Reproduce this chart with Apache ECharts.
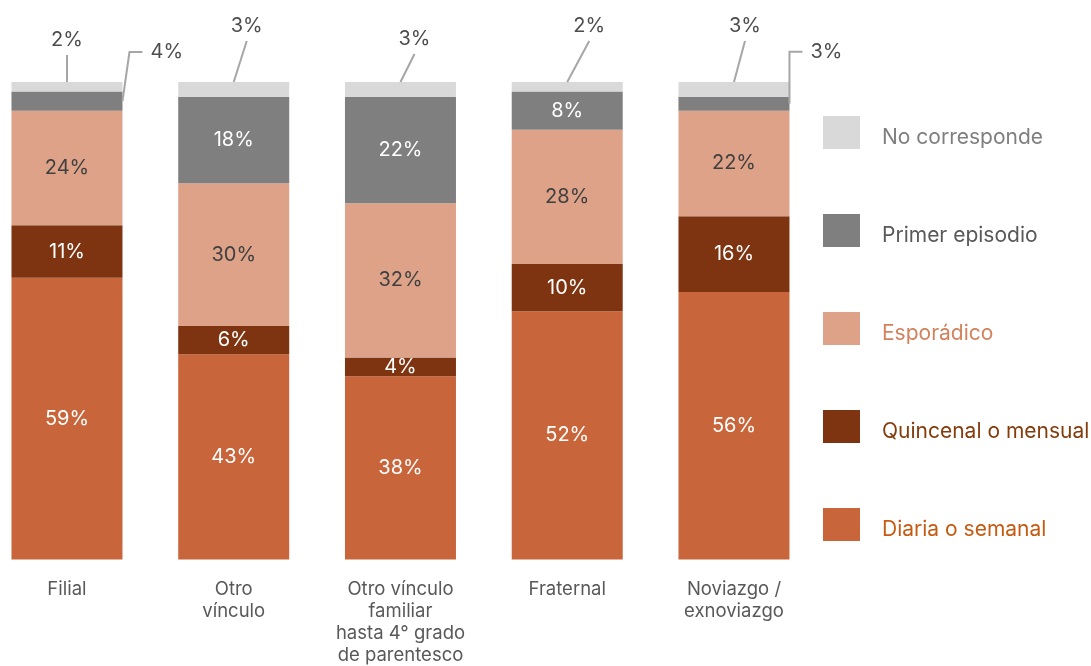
<!DOCTYPE html>
<html>
<head>
<meta charset="utf-8">
<script src="https://cdn.jsdelivr.net/npm/echarts@6/dist/echarts.min.js"></script>
<style>
  html, body { margin: 0; padding: 0; background: #fff; }
  #chart { width: 1091px; height: 666px; }
</style>
</head>
<body>
<div id="chart"></div>
<script>
const categories = ['Filial', 'Otro\nvínculo', 'Otro vínculo\nfamiliar\nhasta 4° grado\nde parentesco', 'Fraternal', 'Noviazgo /\nexnoviazgo'];
const diaria = [59.0, 43.0, 38.4, 52.0, 56.0];
const quincenal = [11.0, 5.9, 3.9, 9.9, 15.9];
const esporadico = [24.0, 29.9, 32.3, 28.1, 22.1];
const primer = [4.0, 18.1, 22.3, 8.0, 2.9];
const noCorresponde = [2.0, 3.1, 3.1, 2.0, 3.1];

// bars whose "Primer episodio" label goes outside with an elbow line
const primerOutside = [0, 4];
// leader line offsets (px) for the top labels and the side labels
const topOffsets = [[0, -27], [13, -41], [14, -28], [22, -41], [11, -41]];
const sideOffsets = { 0: [7, -49], 4: [0, -52] };

const colors = {
  no: '#D9D9D9', primer: '#7F7F7F', esp: '#DEA288', quin: '#7E3410', diaria: '#C8653A'
};
const font = 'Inter, "Noto Sans", sans-serif';
const barWidth = 111;

const chart = echarts.init(document.getElementById('chart'));

const pct = p => Math.round(p.value) + '%';
const inLabel = color => ({ show: true, position: 'inside', color: color, fontSize: 20, fontFamily: font, formatter: pct });

// outside labels
const outData = [];
const outKind = [];
categories.forEach((c, i) => {
  const total = diaria[i] + quincenal[i] + esporadico[i] + primer[i] + noCorresponde[i];
  outData.push([i, total, noCorresponde[i]]);
  outKind.push('top');
});
primerOutside.forEach(i => {
  outData.push([i, diaria[i] + quincenal[i] + esporadico[i] + primer[i] / 2, primer[i]]);
  outKind.push('side');
});

const lineStyle = { stroke: '#A6A6A6', lineWidth: 2, fill: null };
const textStyle = (txt, x, y, align) => ({
  type: 'text',
  style: { text: txt, x: x, y: y, fill: '#4D4D4D', fontSize: 20, fontFamily: font, align: align, verticalAlign: 'middle' }
});

const legendItem = (name, color) => ({
  name: name,
  textStyle: { color: color, rich: { t: { color: color, fontSize: 21, fontFamily: font, padding: [11, 0, 0, 0] } } }
});

const option = {
  animation: false,
  grid: { left: -16.4, top: 82, width: 833.75, bottom: 106.5, outerBoundsMode: 'none' },
  legend: {
    orient: 'vertical',
    left: 823,
    top: 116,
    padding: 0,
    itemWidth: 37,
    itemHeight: 33,
    itemGap: 65,
    icon: 'rect',
    formatter: name => '{t|' + name + '}',
    textStyle: { fontSize: 21, fontFamily: font, padding: [0, 0, 0, 17] },
    data: [
      legendItem('No corresponde', '#7F7F7F'),
      legendItem('Primer episodio', '#595959'),
      legendItem('Esporádico', '#D4825E'),
      legendItem('Quincenal o mensual', '#843C0C'),
      legendItem('Diaria o semanal', '#C55A11')
    ]
  },
  xAxis: {
    type: 'category',
    data: categories,
    axisLine: { show: false },
    axisTick: { show: false },
    axisLabel: { color: '#595959', fontSize: 18.5, fontFamily: font, lineHeight: 22, margin: 19, interval: 0 }
  },
  yAxis: { type: 'value', min: 0, max: 100, show: false },
  series: [
    { name: 'Diaria o semanal', type: 'bar', stack: 't', barWidth: barWidth, data: diaria,
      itemStyle: { color: colors.diaria }, label: inLabel('#FFFFFF') },
    { name: 'Quincenal o mensual', type: 'bar', stack: 't', barWidth: barWidth, data: quincenal,
      itemStyle: { color: colors.quin }, label: inLabel('#FFFFFF') },
    { name: 'Esporádico', type: 'bar', stack: 't', barWidth: barWidth, data: esporadico,
      itemStyle: { color: colors.esp }, label: inLabel('#404040') },
    { name: 'Primer episodio', type: 'bar', stack: 't', barWidth: barWidth,
      data: primer.map((v, i) => primerOutside.includes(i) ? { value: v, label: { show: false } } : v),
      itemStyle: { color: colors.primer }, label: inLabel('#FFFFFF') },
    { name: 'No corresponde', type: 'bar', stack: 't', barWidth: barWidth, data: noCorresponde,
      itemStyle: { color: colors.no }, label: { show: false } },
    {
      type: 'custom',
      silent: true,
      z: 10,
      data: outData,
      encode: { x: 0, y: 1 },
      renderItem: (params, api) => {
        const i = api.value(0);
        const pt = api.coord([i, api.value(1)]);
        const txt = Math.round(api.value(2)) + '%';
        if (outKind[params.dataIndex] === 'top') {
          const off = topOffsets[i];
          const end = [pt[0] + off[0], pt[1] + off[1]];
          return {
            type: 'group',
            children: [
              { type: 'polyline', shape: { points: [pt, end] }, style: lineStyle },
              textStyle(txt, end[0], end[1] - 15, 'center')
            ]
          };
        }
        const off = sideOffsets[i];
        const x0 = pt[0] + barWidth / 2;
        const mid = [x0 + off[0], pt[1] + off[1]];
        const end = [mid[0] + 13, mid[1]];
        return {
          type: 'group',
          children: [
            { type: 'polyline', shape: { points: [[x0, pt[1]], mid, end] }, style: lineStyle },
            textStyle(txt, end[0] + 8, end[1], 'left')
          ]
        };
      }
    }
  ]
};

chart.setOption(option);
</script>
</body>
</html>
